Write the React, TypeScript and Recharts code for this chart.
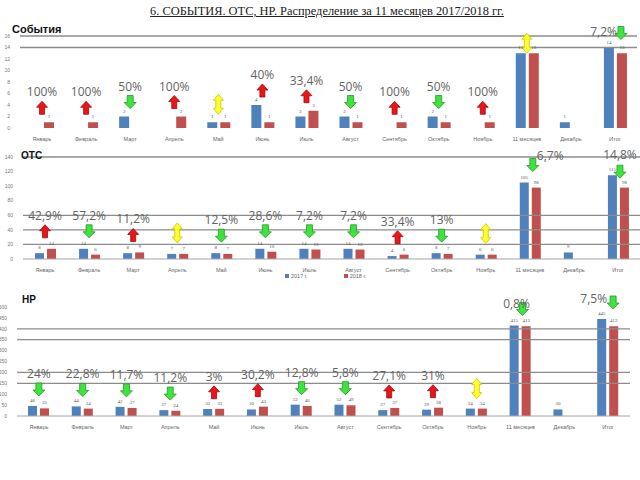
import React from 'react';
import { ComposedChart, Bar, XAxis, YAxis, Scatter, LabelList, ReferenceLine } from 'recharts';

const categories = ['Январь', 'Февраль', 'Март', 'Апрель', 'Май', 'Июнь', 'Июль', 'Август', 'Сентябрь', 'Октябрь', 'Ноябрь', '11 месяцев', 'Декабрь', 'Итог'];

const events2017 = [null, null, 2, null, 1, 4, 2, 2, null, 2, null, 13, 1, 14];
const events2018 = [1, 1, 0, 2, 1, 1, 3, 1, 1, 1, 1, 13, null, 13];
const eventsDir = ['up', 'up', 'down', 'up', 'both', 'up', 'up', 'down', 'up', 'down', 'up', 'both', null, 'down'];
const eventsPct = ['100%', '100%', '50%', '100%', '', '40%', '33,4%', '50%', '100%', '50%', '100%', '', '', '7,2%'];
const eventsTicks = [0, 2, 4, 6, 8, 10, 12, 14, 16];
const eventsGrid = [16, 14];

const ots2017 = [8, 14, 8, 7, 8, 14, 14, 14, 4, 8, 6, 105, 9, 115];
const ots2018 = [14, 6, 9, 7, 7, 10, 13, 13, 6, 7, 6, 98, null, 98];
const otsDir = ['up', 'down', 'up', 'both', 'down', 'down', 'down', 'down', 'up', 'down', 'both', 'down', null, 'down'];
const otsPct = ['42,9%', '57,2%', '11,2%', '', '12,5%', '28,6%', '7,2%', '7,2%', '33,4%', '13%', '', '6,7%', '', '14,8%'];
const otsTicks = [0, 20, 40, 60, 80, 100, 120, 140];
const otsGrid = [140, 60, 40, 20];

const nr2017 = [46, 44, 42, 27, 32, 30, 52, 52, 27, 29, 34, 415, 30, 445];
const nr2018 = [35, 34, 37, 24, 33, 43, 46, 49, 37, 38, 34, 412, null, 412];
const nrDir = ['down', 'down', 'down', 'down', 'up', 'up', 'down', 'down', 'up', 'up', 'both', 'down', null, 'down'];
const nrPct = ['24%', '22,8%', '11,7%', '11,2%', '3%', '30,2%', '12,8%', '5,8%', '27,1%', '31%', '', '0,8%', '', '7,5%'];
const nrTicks = [0, 50, 100, 150, 200, 250, 300, 350, 400, 450, 500];
const nrGrid = [400, 350, 200, 150];

const BLUE = '#4f81bd';
const RED = '#c0504d';

function buildRows(a: (number | null)[], b: (number | null)[], dir: (string | null)[], pct: string[]) {
  return categories.map((name, i) => ({
    name,
    y2017: a[i],
    y2018: b[i],
    top: Math.max(a[i] ?? 0, b[i] ?? 0),
    dir: dir[i],
    pct: pct[i],
    idx: i,
  }));
}

type Special = { arrowDx?: number; arrowDy?: number; textDx?: number; textDy?: number; anchor?: 'start' | 'middle' | 'end' };

function makeArrowShape(gap: number, specials: Record<number, Special>) {
  return (props: any) => {
    const { cx, cy, payload } = props;
    if (!payload || !payload.dir || cx == null || cy == null) return <g />;
    const sp: Special = specials[payload.idx] || {};
    const x = cx + (sp.arrowDx ?? 0);
    const bottom = cy - gap + (sp.arrowDy ?? 0);
    const dir = payload.dir;
    let shape: React.ReactNode;
    let topY: number;
    if (dir === 'up') {
      const h = 13;
      topY = bottom - h;
      const pts = [
        [x, topY], [x + 5.5, topY + 6], [x + 2.5, topY + 6], [x + 2.5, bottom],
        [x - 2.5, bottom], [x - 2.5, topY + 6], [x - 5.5, topY + 6],
      ].map((p) => p.join(',')).join(' ');
      shape = <polygon points={pts} fill="#e8161b" stroke="#a30b0b" strokeWidth={0.8} />;
    } else if (dir === 'down') {
      const h = 13;
      topY = bottom - h;
      const pts = [
        [x - 3, topY], [x + 3, topY], [x + 3, bottom - 6], [x + 6, bottom - 6],
        [x, bottom], [x - 6, bottom - 6], [x - 3, bottom - 6],
      ].map((p) => p.join(',')).join(' ');
      shape = <polygon points={pts} fill="#3ee33e" stroke="#249a24" strokeWidth={0.8} />;
    } else {
      const h = 20;
      topY = bottom - h;
      const pts = [
        [x, topY], [x + 5, topY + 6], [x + 2.5, topY + 6], [x + 2.5, bottom - 6], [x + 5, bottom - 6],
        [x, bottom], [x - 5, bottom - 6], [x - 2.5, bottom - 6], [x - 2.5, topY + 6], [x - 5, topY + 6],
      ].map((p) => p.join(',')).join(' ');
      shape = <polygon points={pts} fill="#ffff2e" stroke="#c9c400" strokeWidth={0.8} />;
    }
    return (
      <g>
        {shape}
        {payload.pct ? (
          <text
            x={x + (sp.textDx ?? 0)}
            y={topY + (sp.textDy ?? -5)}
            textAnchor={sp.anchor ?? 'middle'}
            fontSize={12}
            fontFamily="'Open Sans', Lato, sans-serif"
            fill="#636363"
          >
            {payload.pct}
          </text>
        ) : null}
      </g>
    );
  };
}

type PanelProps = {
  rows: any[];
  top: number;
  height: number;
  margin: { top: number; right: number; bottom: number; left: number };
  yWidth: number;
  xHeight: number;
  ticks: number[];
  grid: number[];
  gap: number;
  specials: Record<number, Special>;
  barSize: number;
  showAxisLine: boolean;
};

function Panel({ rows, top, height, margin, yWidth, xHeight, ticks, grid, gap, specials, barSize, showAxisLine }: PanelProps) {
  const max = ticks[ticks.length - 1];
  return (
    <div style={{ position: 'absolute', left: 0, top, width: 640, height }}>
      <ComposedChart width={640} height={height} data={rows} margin={margin} barGap={3}>
        <XAxis
          dataKey="name"
          interval={0}
          tickLine={false}
          axisLine={showAxisLine ? { stroke: '#a6a6a6' } : false}
          height={xHeight}
          tickMargin={3}
          tick={{ fontSize: 5.5, fill: '#666', fontFamily: 'Liberation Sans, sans-serif' }}
        />
        <YAxis
          type="number"
          domain={[0, max]}
          ticks={ticks}
          width={yWidth}
          axisLine={false}
          tickLine={false}
          tickMargin={4}
          tick={{ fontSize: 5, fill: '#777', fontFamily: 'Liberation Sans, sans-serif' }}
        />
        {grid.map((g) => (
          <ReferenceLine key={g} y={g} stroke="#8c8c8c" strokeWidth={1.3} />
        ))}
        <Bar dataKey="y2017" fill={BLUE} barSize={barSize} isAnimationActive={false}>
          <LabelList dataKey="y2017" position="top" offset={4} fontSize={5} fill="#555" />
        </Bar>
        <Bar dataKey="y2018" fill={RED} barSize={barSize} isAnimationActive={false}>
          <LabelList dataKey="y2018" position="top" offset={4} fontSize={5} fill="#555" />
        </Bar>
        <Scatter dataKey="top" isAnimationActive={false} shape={makeArrowShape(gap, specials)} />
      </ComposedChart>
    </div>
  );
}

export default function App() {
  const eventsRows = buildRows(events2017, events2018, eventsDir, eventsPct);
  const otsRows = buildRows(ots2017, ots2018, otsDir, otsPct);
  const nrRows = buildRows(nr2017, nr2018, nrDir, nrPct);
  const labelStyle: React.CSSProperties = {
    position: 'absolute',
    fontFamily: "'Liberation Sans', Arial, sans-serif",
    color: '#111',
    fontWeight: 'bold',
    lineHeight: 1,
  };
  return (
    <div style={{ position: 'absolute', left: 0, top: 0, width: 640, height: 480, background: '#fff', overflow: 'hidden' }}>
      <div
        style={{
          position: 'absolute', left: 0, top: 5, width: 654, textAlign: 'center',
          fontFamily: "'Liberation Serif', 'Times New Roman', serif", fontSize: 12.4, color: '#222',
          textDecoration: 'underline', lineHeight: 1,
        }}
      >
        6. СОБЫТИЯ. ОТС, НР. Распределение за 11 месяцев 2017/2018 гг.
      </div>
      <Panel
        rows={eventsRows}
        top={0}
        height={145}
        margin={{ top: 36, right: 3, bottom: 0, left: 0 }}
        yWidth={20}
        xHeight={17}
        ticks={eventsTicks}
        grid={eventsGrid}
        gap={8}
        specials={{ 11: { arrowDy: 8 }, 13: { arrowDx: 6, anchor: 'end', textDx: -4, textDy: 9 } }}
        barSize={10}
        showAxisLine={false}
      />
      <Panel
        rows={otsRows}
        top={140}
        height={150}
        margin={{ top: 17, right: 0, bottom: 17, left: 0 }}
        yWidth={23}
        xHeight={14}
        ticks={otsTicks}
        grid={otsGrid}
        gap={11}
        specials={{ 11: { arrowDx: 3, anchor: 'start', textDx: 4, textDy: 1 }, 13: { arrowDx: 2, arrowDy: 14, textDy: -6 } }}
        barSize={9}
        showAxisLine={true}
      />
      <Panel
        rows={nrRows}
        top={290}
        height={145}
        margin={{ top: 17, right: 10, bottom: 0, left: 0 }}
        yWidth={17}
        xHeight={19}
        ticks={nrTicks}
        grid={nrGrid}
        gap={10}
        specials={{ 11: { arrowDx: 2, textDx: -6, textDy: 5 }, 13: { arrowDx: 5, anchor: 'end', textDx: -6, textDy: 7 } }}
        barSize={9}
        showAxisLine={true}
      />
      <div style={{ ...labelStyle, left: 12, top: 24, fontSize: 11 }}>События</div>
      <div style={{ ...labelStyle, left: 21, top: 151, fontSize: 10 }}>ОТС</div>
      <div style={{ ...labelStyle, left: 22, top: 295, fontSize: 10 }}>НР</div>
      <div style={{ position: 'absolute', left: 285, top: 274, fontSize: 5.5, color: '#666', fontFamily: "'Liberation Sans', sans-serif", lineHeight: 1 }}>
        <span style={{ display: 'inline-block', width: 4, height: 4, background: BLUE, marginRight: 2 }} />2017 г.
        <span style={{ display: 'inline-block', width: 4, height: 4, background: RED, marginLeft: 36, marginRight: 2 }} />2018 г.
      </div>
    </div>
  );
}
